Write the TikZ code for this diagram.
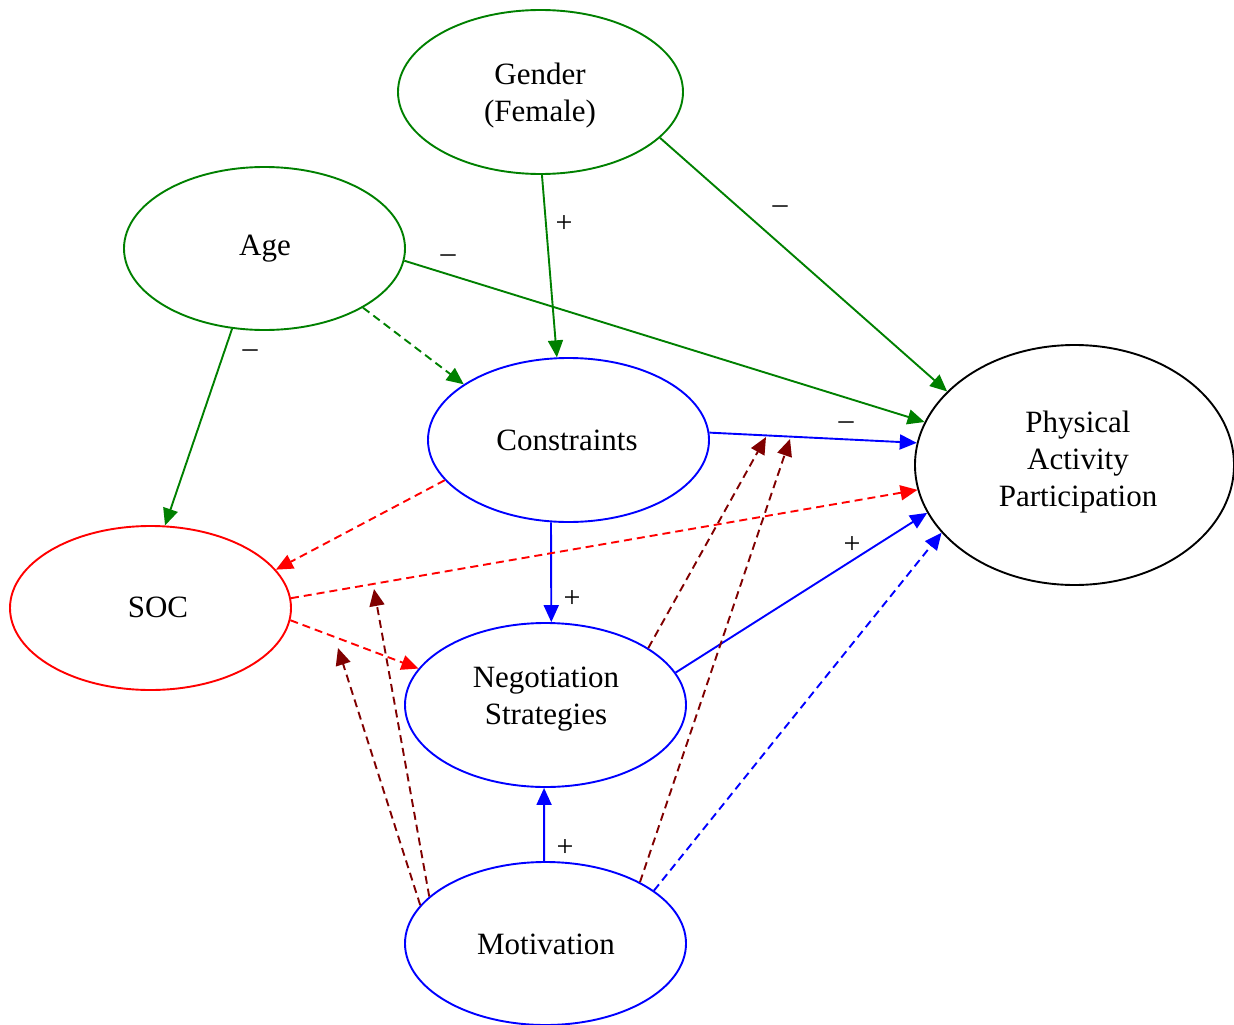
\documentclass[tikz,border=0pt]{standalone}
\usepackage{fontspec}
\setmainfont{Liberation Serif}
\usetikzlibrary{arrows.meta,shapes.geometric}
\definecolor{gvgreen}{RGB}{0,128,0}
\definecolor{gvmaroon}{RGB}{128,0,0}
\begin{document}
\begin{tikzpicture}[x=1pt,y=-1pt,
  oval/.style={ellipse,draw,line width=1.9pt,inner sep=0pt},
  txt/.style={align=center,inner sep=0pt,font=\fontsize{31}{37}\selectfont},
  link/.style={line width=1.9pt,-{Triangle[length=17pt,width=15pt]}},
  dsh/.style={dash pattern=on 8pt off 5pt},
  sign/.style={inner sep=0pt,font=\fontsize{30}{36}\selectfont}]
\useasboundingbox (0,0) rectangle (1234,1025);

% construct ellipses
\node[oval,draw=gvgreen,minimum width=285pt,minimum height=164pt] (gender) at (540.5,92) {};
\node[oval,draw=gvgreen,minimum width=281pt,minimum height=163pt] (age) at (264.5,248.5) {};
\node[oval,draw=blue,minimum width=281pt,minimum height=164pt] (con) at (568.5,440) {};
\node[oval,draw=black,minimum width=319pt,minimum height=240pt] (pap) at (1074.5,465) {};
\node[oval,draw=red,minimum width=281pt,minimum height=164pt] (soc) at (150.5,608) {};
\node[oval,draw=blue,minimum width=281pt,minimum height=164pt] (neg) at (545.5,705) {};
\node[oval,draw=blue,minimum width=281pt,minimum height=163pt] (mot) at (545.5,943.5) {};

% construct names
\node[txt] (gendertxt) at (540,95.5) {Gender\\(Female)};
\node[txt] (agetxt) at (265,249) {Age};
\node[txt] (contxt) at (567,440) {Constraints};
\node[txt] (paptxt) at (1078,462) {Physical\\Activity\\Participation};
\node[txt] (soctxt) at (158,607) {SOC};
\node[txt] (negtxt) at (546,699) {Negotiation\\Strategies};
\node[txt] (mottxt) at (546,944) {Motivation};

% direct paths
\draw[link,gvgreen] (gender.-21) -- (pap.150.3);
\draw[link,gvgreen] (gender.-89) -- (con.98);
\draw[link,gvgreen] (age.-5.9) -- (pap.164.3);
\draw[link,gvgreen,dsh] (age.-31.4) -- (con.152.3);
\draw[link,gvgreen] (age.-112.9) -- (soc.80.7);
\draw[link,blue] (con.3.7) -- (pap.172);
\draw[link,red,dsh] (con.-162.5) -- (soc.17);
\draw[link,blue] (con.-102.7) -- (neg.86.9);
\draw[link,red,dsh] (soc.4.1) -- (pap.-171.1);
\draw[link,red,dsh] (soc.-5.7) -- (neg.164.7);
\draw[link,blue] (neg.14.7) -- (pap.-162.2);
\draw[link,blue] (mot.91.8) -- (neg.-91.7);
\draw[link,blue,dsh] (mot.26.7) -- (pap.-153.2);

% moderating paths ending near other paths
\coordinate (t1) at (338,648);
\coordinate (t2) at (374,589);
\coordinate (t3) at (766,437);
\coordinate (t4) at (790,439);
\draw[link,gvmaroon,dsh] (mot.163.2) -- (t1);
\draw[link,gvmaroon,dsh] (mot.158.4) -- (t2);
\draw[link,gvmaroon,dsh] (neg.29) -- (t3);
\draw[link,gvmaroon,dsh] (mot.33.9) -- (t4);

% signs of effects
\node[sign] (s1) at (780,210) {–};
\node[sign] (s2) at (564,224) {+};
\node[sign] (s3) at (448,259) {–};
\node[sign] (s4) at (250,354) {–};
\node[sign] (s5) at (846,426) {–};
\node[sign] (s6) at (572,599) {+};
\node[sign] (s7) at (852,545) {+};
\node[sign] (s8) at (565,848) {+};
\end{tikzpicture}
\end{document}
